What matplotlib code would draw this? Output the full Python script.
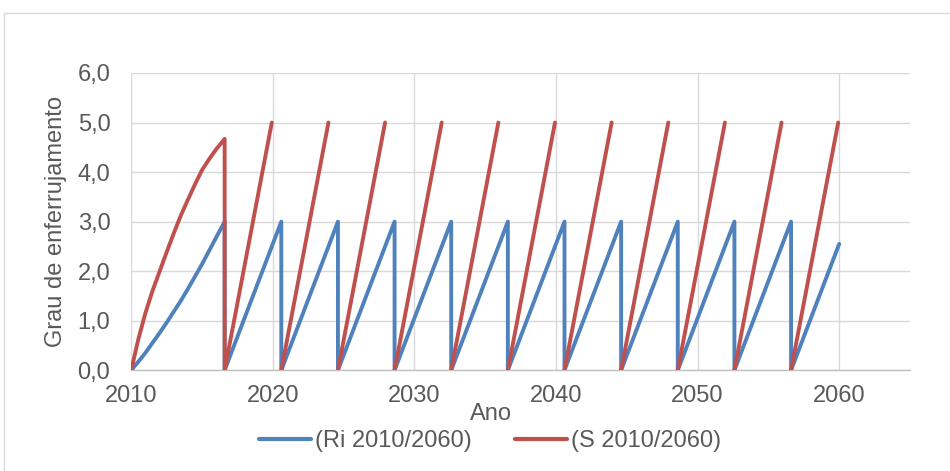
import numpy as np
import matplotlib
matplotlib.use("Agg")
import matplotlib.pyplot as plt
from matplotlib.patches import Rectangle
from matplotlib.ticker import FuncFormatter

plt.rcParams['font.family'] = ['Liberation Sans', 'DejaVu Sans']

# Grau de enferrujamento (Ri) - ciclos de manutenção
ri_anos = [2010, 2010.5, 2011, 2011.5, 2012, 2012.5, 2013, 2013.5, 2014, 2014.5,
           2015, 2015.5, 2016, 2016.6,
           2016.6, 2020.6, 2020.6, 2024.6, 2024.6, 2028.6, 2028.6, 2032.6,
           2032.6, 2036.6, 2036.6, 2040.6, 2040.6, 2044.6, 2044.6, 2048.6,
           2048.6, 2052.6, 2052.6, 2056.6, 2056.6, 2060]
ri_valores = [0.0, 0.17, 0.35, 0.55, 0.75, 0.96, 1.18, 1.40, 1.64, 1.89,
              2.14, 2.41, 2.68, 3.0,
              0.0, 3.0, 0.0, 3.0, 0.0, 3.0, 0.0, 3.0,
              0.0, 3.0, 0.0, 3.0, 0.0, 3.0, 0.0, 3.0,
              0.0, 3.0, 0.0, 3.0, 0.0, 2.55]

# Grau de enferrujamento (S) - valores acima de 5,0 não são apresentados
s_anos = [2010, 2010.5, 2011, 2011.5, 2012, 2012.5, 2013, 2013.5, 2014, 2014.5,
          2015, 2015.5, 2016, 2016.6,
          2016.6, 2019.93, np.nan, 2020.6, 2023.93, np.nan,
          2024.6, 2027.93, np.nan, 2028.6, 2031.93, np.nan,
          2032.6, 2035.93, np.nan, 2036.6, 2039.93, np.nan,
          2040.6, 2043.93, np.nan, 2044.6, 2047.93, np.nan,
          2048.6, 2051.93, np.nan, 2052.6, 2055.93, np.nan,
          2056.6, 2059.93]
s_valores = [0.0, 0.62, 1.15, 1.60, 1.99, 2.38, 2.76, 3.12, 3.44, 3.75,
             4.04, 4.26, 4.46, 4.67,
             0.0, 5.0, np.nan, 0.0, 5.0, np.nan,
             0.0, 5.0, np.nan, 0.0, 5.0, np.nan,
             0.0, 5.0, np.nan, 0.0, 5.0, np.nan,
             0.0, 5.0, np.nan, 0.0, 5.0, np.nan,
             0.0, 5.0, np.nan, 0.0, 5.0, np.nan,
             0.0, 5.0]

x_ticks = [2010, 2020, 2030, 2040, 2050, 2060]
y_ticks = [0, 1, 2, 3, 4, 5, 6]
serie_ri = "(Ri 2010/2060)"
serie_s = "(S 2010/2060)"
titulo_x = "Ano"
titulo_y = "Grau de enferrujamento"

AZUL = "#4F81BD"
VERMELHO = "#C0504D"
TEXTO = "#595959"
GRADE = "#D9D9D9"
FS = 17

W, H = 950, 471
fig = plt.figure(figsize=(W / 100, H / 100), dpi=100)

# moldura da área do gráfico
fig.patches.append(Rectangle((4 / W, 1 - 480 / H), 960 / W, (480 - 13) / H,
                             transform=fig.transFigure, fill=False,
                             edgecolor=GRADE, linewidth=1.0))

ax = fig.add_axes([131.2 / W, 1 - 370.2 / H, (910 - 131.2) / W, (370.2 - 73) / H])

ax.plot(ri_anos, ri_valores, color=AZUL, lw=2.8, label=serie_ri,
        solid_joinstyle='round', solid_capstyle='round', zorder=3)
ax.plot(s_anos, s_valores, color=VERMELHO, lw=2.8, label=serie_s,
        solid_joinstyle='round', solid_capstyle='round', zorder=4)

ax.set_xlim(2010, 2065)
ax.set_ylim(0, 6)
ax.set_xticks(x_ticks)
ax.set_xticklabels([str(t) for t in x_ticks])
ax.set_yticks(y_ticks)
ax.yaxis.set_major_formatter(FuncFormatter(lambda v, p: f"{v:.1f}".replace('.', ',')))

ax.grid(True, color=GRADE, lw=1.0, zorder=0)
ax.set_axisbelow(True)
for s in ['top', 'right', 'left']:
    ax.spines[s].set_visible(False)
ax.spines['bottom'].set_color('#BFBFBF')
ax.spines['bottom'].set_linewidth(1.0)
ax.spines['bottom'].set_zorder(1)

ax.tick_params(axis='x', length=0, pad=11, labelsize=FS, labelcolor=TEXTO)
ax.tick_params(axis='y', length=0, pad=15, labelsize=FS, labelcolor=TEXTO)

fig.text(490.5 / W, 1 - 413.5 / H, titulo_x, ha='center', va='center',
         fontsize=FS, color=TEXTO)
fig.text(56 / W, 1 - 221.6 / H, titulo_y, ha='center', va='center',
         rotation=90, fontsize=FS, color=TEXTO)

leg = fig.legend(loc='center', bbox_to_anchor=(490 / W, 1 - 441 / H), ncol=2,
                 frameon=False, fontsize=FS, handlelength=2.2, handletextpad=0.2,
                 columnspacing=1.8, borderaxespad=0)
for t in leg.get_texts():
    t.set_color(TEXTO)
for l in leg.get_lines():
    l.set_linewidth(3.0)

fig.savefig("out.png", dpi=100)
